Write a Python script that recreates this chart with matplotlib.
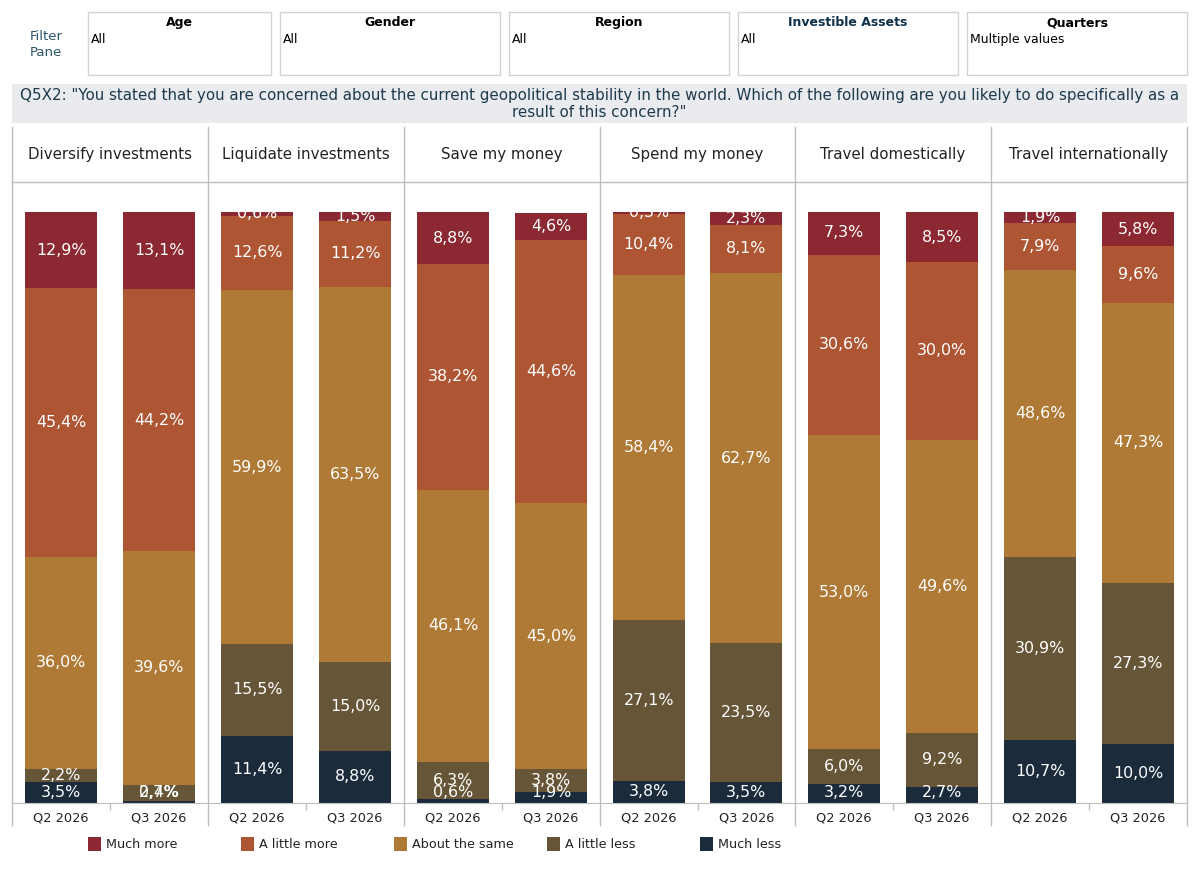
import matplotlib
matplotlib.use("Agg")
import matplotlib.pyplot as plt
from matplotlib.lines import Line2D
from matplotlib.patches import Rectangle

W, H = 1199, 872

panels = ["Diversify investments", "Liquidate investments", "Save my money",
          "Spend my money", "Travel domestically", "Travel internationally"]
quarters = ["Q2 2026", "Q3 2026"]
responses = ["Much more", "A little more", "About the same", "A little less", "Much less"]
colors = ["#8B2832", "#AE5533", "#AF7936", "#665637", "#1B2B3C"]

# values per panel: [Q2, Q3], each ordered as responses (top to bottom)
much_more     = [[12.9, 13.1], [0.6, 1.5], [8.8, 4.6], [0.3, 2.3], [7.3, 8.5], [1.9, 5.8]]
a_little_more = [[45.4, 44.2], [12.6, 11.2], [38.2, 44.6], [10.4, 8.1], [30.6, 30.0], [7.9, 9.6]]
about_same    = [[36.0, 39.6], [59.9, 63.5], [46.1, 45.0], [58.4, 62.7], [53.0, 49.6], [48.6, 47.3]]
a_little_less = [[2.2, 2.7], [15.5, 15.0], [6.3, 3.8], [27.1, 23.5], [6.0, 9.2], [30.9, 27.3]]
much_less     = [[3.5, 0.4], [11.4, 8.8], [0.6, 1.9], [3.8, 3.5], [3.2, 2.7], [10.7, 10.0]]
series = [much_more, a_little_more, about_same, a_little_less, much_less]

filters = ["Age", "Gender", "Region", "Investible Assets", "Quarters"]
filter_values = ["All", "All", "All", "All", "Multiple values"]
question = ('Q5X2: "You stated that you are concerned about the current geopolitical stability in the world. '
            'Which of the following are you likely to do specifically as a\nresult of this concern?"')

fig = plt.figure(figsize=(W / 100, H / 100), dpi=100)
fig.patch.set_facecolor("white")

def fx(x):
    return x / W

def fy(y):
    return 1 - y / H

def rect(x0, y0, x1, y1):
    return [fx(x0), fy(y1), fx(x1) - fx(x0), fy(y0) - fy(y1)]

grey = "#BDBDBD"

# ---- Filter pane ----
fig.text(fx(46), fy(44), "Filter\nPane", ha="center", va="center", fontsize=9.5,
         color="#2B5468", linespacing=1.3, multialignment="center")
fboxes = [(88, 271), (280, 500), (509, 729), (738, 958), (967, 1187)]
for (x0, x1), title, val in zip(fboxes, filters, filter_values):
    fig.add_artist(Rectangle((fx(x0), fy(75)), fx(x1) - fx(x0), fy(12) - fy(75),
                             transform=fig.transFigure, fill=False, edgecolor="#D3D3D3", lw=1))
    tcol = "#0E3048" if title == "Investible Assets" else "black"
    fig.text(fx((x0 + x1) / 2), fy(22.5), title, ha="center", va="center", fontsize=9,
             fontweight="bold", color=tcol)
    fig.text(fx(x0 + 3), fy(39.5), val, ha="left", va="center", fontsize=9, color="black")

# ---- Question banner ----
fig.add_artist(Rectangle((fx(12), fy(123)), fx(1187) - fx(12), fy(84) - fy(123),
                         transform=fig.transFigure, facecolor="#E9EBEE", edgecolor="none"))
fig.text(fx(599.5), fy(104), question, ha="center", va="center", fontsize=10.9,
         color="#1E3A4C", linespacing=1.2)

# ---- Panels ----
bounds = [12, 208, 404, 600, 795, 991, 1187]
top_y, bot_y = 212, 803
min_label = 1.75  # labels near the floor are kept inside the pane
for i, name in enumerate(panels):
    x0, x1 = bounds[i], bounds[i + 1]
    ax = fig.add_axes(rect(x0, top_y, x1, bot_y))
    ax.set_xlim(-0.5, 1.5)
    ax.set_ylim(0, 100)
    for s in ax.spines.values():
        s.set_visible(False)
    ax.spines["bottom"].set_visible(True)
    ax.spines["bottom"].set_color(grey)
    for q in range(2):
        vals = [series[k][i][q] for k in range(5)]
        bottom = 0.0
        for k in range(4, -1, -1):
            v = vals[k]
            ax.bar(q, v, bottom=bottom, width=0.74, color=colors[k], linewidth=0)
            ly = max(bottom + v / 2, min_label)
            ax.text(q, ly, f"{v:.1f}%".replace(".", ","), ha="center", va="center",
                    color="white", fontsize=11.4, clip_on=True)
            bottom += v
    ax.set_xticks([0, 1])
    ax.set_xticklabels(quarters, fontsize=9.3, color="#222222")
    ax.tick_params(axis="x", which="major", length=0, pad=6)
    ax.set_xticks([0.5], minor=True)
    ax.tick_params(axis="x", which="minor", length=5, color=grey, width=1)
    ax.set_yticks([])
    fig.text(fx((x0 + x1) / 2), fy(155), name, ha="center", va="center", fontsize=10.8,
             color="#222222")

for b in bounds:
    fig.add_artist(Line2D([fx(b), fx(b)], [fy(127), fy(825)], transform=fig.transFigure,
                          color=grey, lw=1))
fig.add_artist(Line2D([fx(12), fx(1187)], [fy(182), fy(182)], transform=fig.transFigure,
                      color=grey, lw=1))

# ---- Legend ----
leg_x = [88, 241, 394, 547, 700]
for lx, lab, c in zip(leg_x, responses, colors):
    fig.add_artist(Rectangle((fx(lx), fy(851)), fx(13), fy(837) - fy(851),
                             transform=fig.transFigure, facecolor=c, edgecolor="none"))
    fig.text(fx(lx + 18), fy(844), lab, ha="left", va="center", fontsize=9.2, color="#222222")

fig.savefig("out.png", dpi=100, facecolor="white")
